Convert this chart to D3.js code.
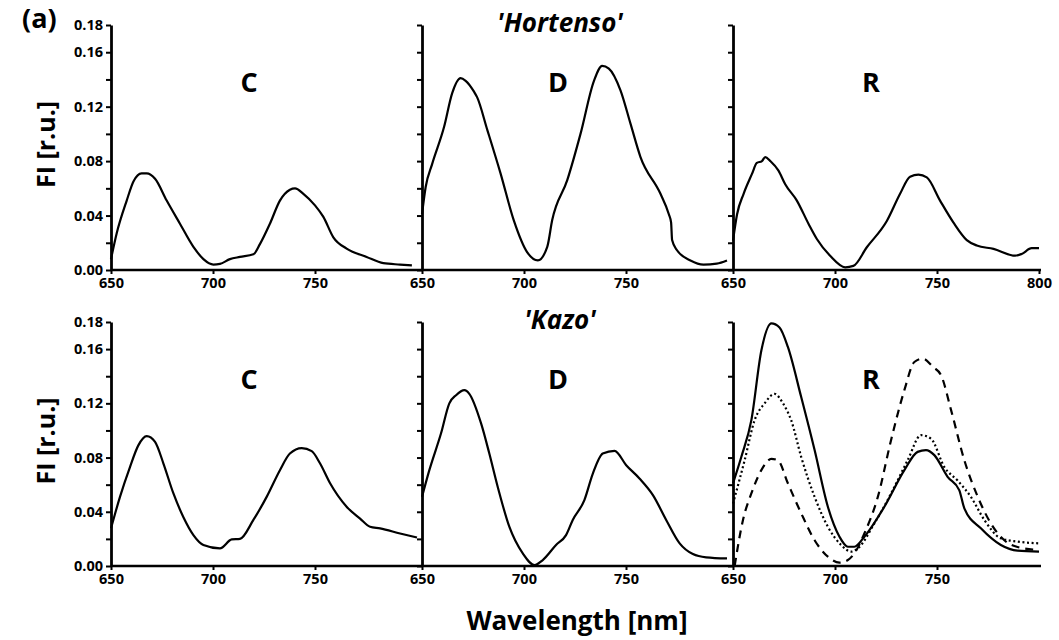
<!DOCTYPE html>
<html>
<head>
<meta charset="utf-8">
<script src="https://cdn.jsdelivr.net/npm/d3@7"></script>
<style>
  body { margin: 0; background: #fff; }
  text { font-family: "Open Sans", "Noto Sans", sans-serif; font-weight: bold; fill: #000; }
</style>
</head>
<body>
<script>
// datos: [longitud de onda (nm), FI (r.u.)]
const hortensoC = [[650,0.008],[652.8,0.027],[657.7,0.051],[661,0.065],[665,0.071],[667.5,0.071],[671.6,0.067],
  [677.3,0.051],[683.8,0.034],[690.4,0.017],[695.3,0.008],[700.2,0.004],[703.4,0.0045],[708.3,0.008],[713.2,0.0096],
  [719.8,0.0115],[723,0.019],[727.9,0.034],[732.8,0.051],[737.7,0.059],[740.2,0.060],[744.3,0.056],[750,0.0475],
  [754.1,0.039],[759,0.024],[765.5,0.0157],[775.3,0.0096],[783.5,0.005],[791.7,0.004],[797.5,0.0034]];

const hortensoD = [[650,0.041],[651.8,0.061],[655,0.078],[660.8,0.105],[664.8,0.130],[668.9,0.141],[671.4,0.139],
  [675.5,0.131],[677,0.127],[682,0.103],[688.5,0.071],[695,0.0365],[701.6,0.013],[706.8,0.007],[711.4,0.017],
  [713.8,0.0365],[721.2,0.066],[727.7,0.100],[734.3,0.139],[738.3,0.150],[741.6,0.148],[747.3,0.132],[752.2,0.1075],
  [757.1,0.083],[766.9,0.056],[771,0.041],[772.1,0.035],[772.6,0.022],[775,0.0145],[781.6,0.007],[788,0.004],
  [794.5,0.0047],[799.5,0.007]];

const hortensoR = [[650,0.0216],[652,0.041],[655.2,0.056],[659.3,0.0706],[661.7,0.0787],[664.2,0.080],[665.8,0.083],
  [668.3,0.080],[672.3,0.073],[675.6,0.063],[681.3,0.051],[687,0.034],[691.1,0.0228],[697.6,0.0105],[705,0.002],
  [709,0.003],[715.6,0.0167],[725.4,0.036],[731.9,0.056],[736.8,0.0686],[740.9,0.070],[745,0.068],[751.5,0.051],
  [758,0.035],[764.6,0.022],[769.5,0.018],[777.7,0.0155],[788.3,0.0105],[791.5,0.0118],[796.4,0.016],[800,0.016]];

const kazoC = [[650,0.0278],[654.4,0.051],[659.3,0.073],[663.4,0.089],[667.5,0.0958],[671.6,0.0916],[675.7,0.0756],
  [680.6,0.0535],[685.5,0.036],[690.4,0.0228],[695.3,0.0155],[703.4,0.013],[709.2,0.0196],[713.2,0.020],[719.8,0.034],
  [726.3,0.051],[732.8,0.0707],[737.7,0.083],[743.5,0.087],[748.4,0.0847],[752.5,0.0756],[757.4,0.061],[765.5,0.0437],
  [772.1,0.035],[777,0.029],[781.9,0.0278],[791.7,0.024],[800,0.021]];

const kazoD = [[650,0.051],[653.6,0.0707],[659.3,0.0977],[663.4,0.12],[666.7,0.126],[670.8,0.1297],[673.2,0.127],
  [679,0.105],[683,0.083],[687.1,0.0585],[692.8,0.029],[699.4,0.0093],[705.1,0.0007],[709.2,0.0044],[715.7,0.0155],
  [720.6,0.0228],[723.9,0.034],[729.6,0.0486],[733.7,0.068],[738.6,0.083],[744.4,0.085],[750.1,0.0744],[756.6,0.0646],
  [763.2,0.0523],[769.7,0.034],[776.3,0.0167],[782.8,0.0088],[789.3,0.0064],[799.5,0.0056]];

const kazoRsolid = [[650,0.061],[654.1,0.0806],[659,0.1076],[663.9,0.159],[668.8,0.179],[672.8,0.176],[676.9,0.1616],
  [683.4,0.1248],[690,0.0855],[696.5,0.0437],[702.2,0.0216],[706.3,0.0142],[709.5,0.0142],[714.4,0.0216],[724.2,0.0437],
  [734,0.0707],[740.5,0.0842],[744.6,0.0855],[748.7,0.0818],[755.2,0.0658],[760.9,0.056],[763.4,0.0425],[771.5,0.0278],
  [781.3,0.0155],[789.5,0.0113],[800,0.0106]];

const kazoRdotted = [[650,0.046],[655.7,0.078],[660.6,0.1076],[665.5,0.12],[670.4,0.127],[674.5,0.12],[678.5,0.1076],
  [683.4,0.0806],[690,0.051],[696.5,0.029],[703,0.0155],[707.9,0.0106],[711.2,0.013],[719.3,0.0314],[727.5,0.0535],
  [735.6,0.078],[742.2,0.0965],[747,0.094],[753.6,0.073],[760.1,0.063],[766.6,0.051],[773.2,0.034],[781.3,0.0204],
  [789.5,0.018],[800,0.0167]];

const kazoRdashed = [[650.8,0],[654.9,0.034],[659,0.0535],[663.9,0.0707],[668.8,0.079],[672,0.078],[676.9,0.061],
  [683.4,0.039],[690,0.019],[696.5,0.0069],[702.2,0.0025],[706.3,0.0044],[709.5,0.0093],[714.4,0.024],[721,0.051],
  [727.5,0.093],[734,0.1297],[738.9,0.1505],[743,0.153],[747.9,0.147],[752,0.1407],[756.9,0.115],[763.4,0.078],
  [770,0.051],[776.4,0.0314],[783,0.019],[789.5,0.014],[800,0.0118]];

const panelNames = ['C', 'D', 'R'];
const cultivars = ["'Hortenso'", "'Kazo'"];
const yTicks = d3.range(10).map(i => i * 2 / 100);
const yLabels = [0, 0.04, 0.08, 0.12, 0.16, 0.18];
const xTicksTop = [[650, 700, 750], [650, 700, 750], [650, 700, 750, 800]];
const xTicksBottom = [[650, 700, 750], [650, 700, 750], [650, 700, 750]];

const rows = [
  { series: [[hortensoC], [hortensoD], [hortensoR]], ticks: xTicksTop, yTop: 25, yBottom: 270 },
  { series: [[kazoC], [kazoD], [kazoRsolid, kazoRdotted, kazoRdashed]], ticks: xTicksBottom, yTop: 322, yBottom: 566 }
];
const dashes = [null, '2,2.6', '8,6'];

const panelX = [111, 422, 733];
const panelW = 306;

const svg = d3.select('body').append('svg').attr('width', 1059).attr('height', 640);

rows.forEach((row, r) => {
  const y = d3.scaleLinear().domain([0, 0.18]).range([row.yBottom, row.yTop]);

  // linea base continua de la fila
  svg.append('line')
    .attr('x1', panelX[0]).attr('x2', panelX[2] + panelW + 2)
    .attr('y1', row.yBottom).attr('y2', row.yBottom)
    .attr('stroke', '#000').attr('stroke-width', 2.6);

  panelX.forEach((x0, p) => {
    const x = d3.scaleLinear().domain([650, 800]).range([x0, x0 + panelW]);

    const xAxis = svg.append('g')
      .attr('transform', `translate(0,${row.yBottom})`)
      .call(d3.axisBottom(x).tickValues(row.ticks[p]).tickSize(4).tickSizeOuter(0).tickPadding(4));
    xAxis.select('.domain').remove();
    xAxis.selectAll('line').attr('stroke-width', 2);
    xAxis.selectAll('text').style('font-size', '14.5px').style('font-family', '"Open Sans", sans-serif').style('font-weight', 'bold');

    const yAxis = svg.append('g')
      .attr('transform', `translate(${x0},0)`)
      .call(d3.axisLeft(y).tickValues(yTicks).tickSize(5).tickSizeOuter(0).tickPadding(3)
        .tickFormat(d => (p === 0 && yLabels.some(v => Math.abs(v - d) < 1e-9)) ? d3.format('.2f')(d) : ''));
    yAxis.select('.domain').attr('stroke-width', 2.8);
    yAxis.selectAll('line').attr('stroke-width', 2);
    yAxis.selectAll('text').style('font-size', '14.5px').style('font-family', '"Open Sans", sans-serif').style('font-weight', 'bold');

    const line = d3.line()
      .x(d => x(d[0]))
      .y(d => y(d[1]))
      .curve(d3.curveMonotoneX);

    row.series[p].forEach((s, i) => {
      svg.append('path')
        .datum(s)
        .attr('d', line)
        .attr('fill', 'none')
        .attr('stroke', '#000')
        .attr('stroke-width', 2.2)
        .attr('stroke-dasharray', dashes[i]);
    });

    svg.append('text')
      .attr('x', [249, 558, 871][p])
      .attr('y', row.yTop + 67)
      .attr('text-anchor', 'middle')
      .style('font-size', '27px')
      .text(panelNames[p]);
  });

  svg.append('text')
    .attr('x', 560)
    .attr('y', row.yTop + 7)
    .attr('text-anchor', 'middle')
    .style('font-size', '26px')
    .style('font-style', 'italic')
    .text(cultivars[r]);

  svg.append('text')
    .attr('transform', `translate(55,${(row.yTop + row.yBottom) / 2 - 3}) rotate(-90)`)
    .attr('text-anchor', 'middle')
    .style('font-size', '25px')
    .text('FI [r.u.]');
});

svg.append('text')
  .attr('x', 22).attr('y', 28)
  .style('font-size', '27px')
  .text('(a)');

svg.append('text')
  .attr('x', 577).attr('y', 630)
  .attr('text-anchor', 'middle')
  .style('font-size', '26px')
  .text('Wavelength [nm]');
</script>
</body>
</html>
